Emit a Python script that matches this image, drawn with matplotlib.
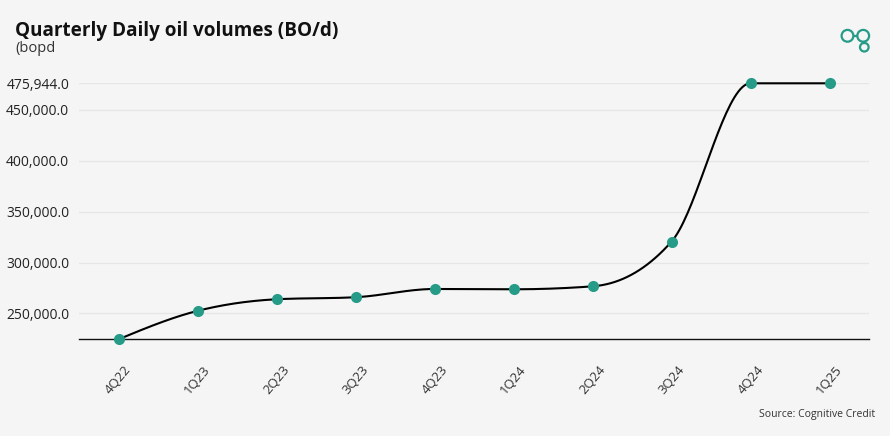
"""
plot.py -- quarterly daily oil volumes, smoothed line with markers.
"""
import numpy as np
import matplotlib
matplotlib.use("Agg")
import matplotlib.pyplot as plt
from matplotlib.patches import Circle
from matplotlib.lines import Line2D

QUARTERS = ["4Q22", "1Q23", "2Q23", "3Q23", "4Q23",
            "1Q24", "2Q24", "3Q24", "4Q24", "1Q25"]
VOLUMES = [224600, 252500, 263900, 265900, 274000,
           273700, 276600, 320500, 475944, 475944]
YTICKS = [250000, 300000, 350000, 400000, 450000, 475944]

BG = "#f5f5f5"
TEAL = "#259b88"
GRID = "#e6e6e6"


def monotone_x(x, y, n=40):
    """d3-style curveMonotoneX through the points (Fritsch-Carlson slopes)."""
    x = np.asarray(x, float)
    y = np.asarray(y, float)
    h = np.diff(x)
    s = np.diff(y) / h
    m = np.zeros_like(y)
    for i in range(1, len(y) - 1):
        p = (s[i - 1] * h[i] + s[i] * h[i - 1]) / (h[i - 1] + h[i])
        m[i] = (np.sign(s[i - 1]) + np.sign(s[i])) * \
            min(abs(s[i - 1]), abs(s[i]), 0.5 * abs(p))
    m[0] = (3 * s[0] - m[1]) / 2
    m[-1] = (3 * s[-1] - m[-2]) / 2
    xs, ys = [], []
    for i in range(len(x) - 1):
        t = np.linspace(0, 1, n)
        x0, x1 = x[i], x[i + 1]
        dx = (x1 - x0) / 3
        p0, p3 = y[i], y[i + 1]
        p1, p2 = p0 + dx * m[i], p3 - dx * m[i + 1]
        xs.append(x0 + t * (x1 - x0))
        ys.append((1 - t) ** 3 * p0 + 3 * (1 - t) ** 2 * t * p1
                  + 3 * (1 - t) * t ** 2 * p2 + t ** 3 * p3)
    return np.concatenate(xs), np.concatenate(ys)


plt.rcParams["font.family"] = ["Open Sans", "DejaVu Sans"]

fig = plt.figure(figsize=(8.9, 4.36), dpi=100, facecolor=BG)
ax = fig.add_axes([79 / 890, 1 - 339.3 / 436, 790 / 890, 256 / 436])
ax.set_facecolor(BG)

xpos = np.arange(len(QUARTERS))
cx, cy = monotone_x(xpos, VOLUMES)
ax.plot(cx, cy, color="black", lw=1.5, zorder=3, clip_on=False)
ax.scatter(xpos, VOLUMES, s=64, color=TEAL, zorder=4, clip_on=False,
           linewidths=0)

ax.set_xlim(-0.5, len(QUARTERS) - 0.5)
ax.set_ylim(min(VOLUMES), max(VOLUMES))
ax.set_yticks(YTICKS)
ax.set_yticklabels([f"{v:,.1f}" for v in YTICKS])
ax.set_xticks(xpos)
ax.set_xticklabels(QUARTERS, rotation=50)
ax.yaxis.grid(True, color=GRID, lw=1)
ax.set_axisbelow(True)
for side in ("top", "right", "left"):
    ax.spines[side].set_visible(False)
ax.spines["bottom"].set_color("#111111")
ax.spines["bottom"].set_linewidth(1)
ax.tick_params(axis="y", length=0, pad=7, labelsize=10, labelcolor="#222222")
ax.tick_params(axis="x", length=0, pad=17, labelsize=9.5, labelcolor="#333333")

fig.text(15 / 890, 1 - 36 / 436, "Quarterly Daily oil volumes (BO/d)",
         fontsize=13.6, fontweight="bold", color="#111111", va="baseline")
fig.text(15 / 890, 1 - 52 / 436, "(bopd", fontsize=10.5, color="#333333",
         va="baseline")
fig.text(875 / 890, 1 - 417 / 436, "Source: Cognitive Credit", fontsize=7.5,
         color="#333333", ha="right", va="baseline")

# logo, drawn in pixel coordinates
lw = 1.6
fig.add_artist(Line2D([853.5 / 890, 857.3 / 890], [1 - 35.8 / 436] * 2,
                      transform=fig.transFigure, color=TEAL, lw=lw))
fig.add_artist(Line2D([864 / 890] * 2, [1 - 41.7 / 436, 1 - 42.8 / 436],
                      transform=fig.transFigure, color=TEAL, lw=lw))
for (x, y), r in [((847.5, 35.8), 5.9), ((863.2, 35.8), 5.9), ((864.3, 47.2), 4.3)]:
    fig.add_artist(Circle((x, 436 - y), r, transform=None, fill=False,
                          edgecolor=TEAL, lw=lw))

fig.savefig("out.png", dpi=100, facecolor=BG)
